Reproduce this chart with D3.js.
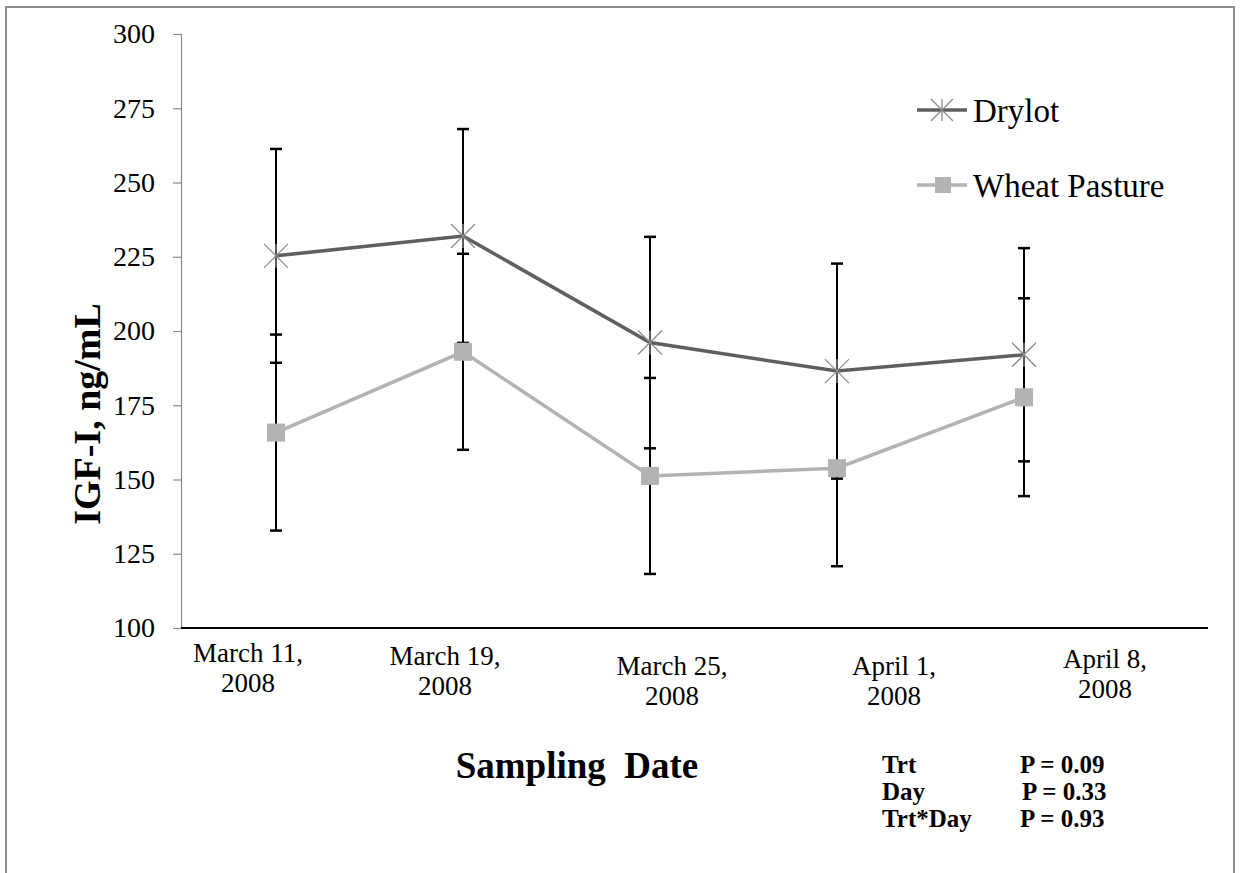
<!DOCTYPE html>
<html>
<head>
<meta charset="utf-8">
<script src="https://cdn.jsdelivr.net/npm/d3@7"></script>
<style>
  html, body { margin: 0; padding: 0; background: #fff; }
  svg { display: block; }
</style>
</head>
<body>
<svg id="chart" width="1244" height="873"></svg>
<script>
// Serum IGF-I by sampling date, two treatments, means ± SE
const dates = ["March 11, 2008", "March 19, 2008", "March 25, 2008", "April 1, 2008", "April 8, 2008"];
const dateLines = [["March 11,", "2008"], ["March 19,", "2008"], ["March 25,", "2008"], ["April 1,", "2008"], ["April 8,", "2008"]];
const drylot = [225.3, 232.0, 196.1, 186.5, 192.0];
const drylotSE = [36.0, 36.0, 35.6, 36.2, 35.9];
const wheat = [165.8, 193.0, 151.2, 153.8, 177.7];
const wheatSE = [33.0, 33.0, 33.0, 33.0, 33.3];
const yTicks = [100, 125, 150, 175, 200, 225, 250, 275, 300];
const seriesNames = ["Drylot", "Wheat Pasture"];
const statLabels = ["Trt", "Day", "Trt*Day"];
const statValues = ["P = 0.09", "P = 0.33", "P = 0.93"];

const SERIF = "Liberation Serif";

// layout
const plot = { left: 181, right: 1208, top: 34, bottom: 628 };
// the date labels sit as free text boxes, nudged off their category centres
const labelNudge = [[-28, 34], [-18, 37], [22, 47], [57, 47], [81, 40]];

const svg = d3.select("#chart");

// outer frame
svg.append("rect")
  .attr("x", 6).attr("y", 7).attr("width", 1228).attr("height", 900)
  .attr("fill", "none").attr("stroke", "#8a8a8a").attr("stroke-width", 2);

const x = d3.scaleBand()
  .domain(dates)
  .range([plot.left + 1.5, plot.right + 3])
  .paddingInner(0).paddingOuter(0.25).align(0);
const cx = d => x(d) + x.bandwidth() / 2;

const y = d3.scaleLinear().domain([100, 300]).range([plot.bottom, plot.top]);

// y axis
const yAxis = d3.axisLeft(y).tickValues(yTicks).tickSize(8).tickPadding(18).tickFormat(d3.format("d"));
const gy = svg.append("g").attr("transform", `translate(${plot.left},0)`).call(yAxis);
gy.select(".domain").attr("stroke", "#8a8a8a").attr("stroke-width", 1.2);
gy.selectAll(".tick line").attr("stroke", "#8a8a8a").attr("stroke-width", 1.2);
gy.selectAll(".tick text")
  .style("font-family", SERIF).style("font-size", "28px").attr("fill", "#000");

// x axis line
svg.append("line")
  .attr("x1", plot.left).attr("x2", plot.right)
  .attr("y1", y(100)).attr("y2", y(100))
  .attr("stroke", "#000").attr("stroke-width", 2);

// date labels
const xl = svg.append("g");
dates.forEach((d, i) => {
  const t = xl.append("text")
    .attr("text-anchor", "middle")
    .style("font-family", SERIF).style("font-size", "27px")
    .attr("x", cx(d) + labelNudge[i][0])
    .attr("y", y(100) + labelNudge[i][1]);
  dateLines[i].forEach((ln, k) => {
    t.append("tspan").attr("x", cx(d) + labelNudge[i][0]).attr("dy", k === 0 ? 0 : 30).text(ln);
  });
});

// axis titles
svg.append("text")
  .attr("transform", "translate(100,414) rotate(-90)")
  .attr("text-anchor", "middle")
  .style("font-family", SERIF).style("font-weight", "bold").style("font-size", "38px")
  .text("IGF-I, ng/mL");

svg.append("text")
  .attr("x", 577).attr("y", 778)
  .attr("text-anchor", "middle")
  .style("font-family", SERIF).style("font-weight", "bold").style("font-size", "37px")
  .style("white-space", "pre")
  .text("Sampling  Date");

// error bars
const capHalf = 6;
function errorBars(vals, ses) {
  const g = svg.append("g").attr("stroke", "#000").attr("stroke-width", 2);
  dates.forEach((d, i) => {
    const px = cx(d), hi = y(vals[i] + ses[i]), lo = y(vals[i] - ses[i]);
    g.append("line").attr("x1", px).attr("x2", px).attr("y1", hi).attr("y2", lo);
    g.append("line").attr("x1", px - capHalf).attr("x2", px + capHalf).attr("y1", hi).attr("y2", hi).attr("stroke-width", 2.5);
    g.append("line").attr("x1", px - capHalf).attr("x2", px + capHalf).attr("y1", lo).attr("y2", lo).attr("stroke-width", 2.5);
  });
}
errorBars(drylot, drylotSE);
errorBars(wheat, wheatSE);

// series lines
const line = d3.line().x((v, i) => cx(dates[i])).y(v => y(v));
svg.append("path").datum(wheat).attr("d", line)
  .attr("fill", "none").attr("stroke", "#b3b3b3").attr("stroke-width", 3.5);
svg.append("path").datum(drylot).attr("d", line)
  .attr("fill", "none").attr("stroke", "#5f5f5f").attr("stroke-width", 3.5);

// markers
function star(g, px, py, r) {
  const s = g.append("g").attr("stroke", "#8c8c8c").attr("stroke-width", 1.3);
  s.append("line").attr("x1", px - r).attr("y1", py - r).attr("x2", px + r).attr("y2", py + r);
  s.append("line").attr("x1", px - r).attr("y1", py + r).attr("x2", px + r).attr("y2", py - r);
  s.append("line").attr("x1", px).attr("y1", py - r).attr("x2", px).attr("y2", py + r);
}
function square(g, px, py, size) {
  g.append("rect").attr("x", px - size / 2).attr("y", py - size / 2)
    .attr("width", size).attr("height", size).attr("fill", "#b3b3b3");
}
const mk = svg.append("g");
wheat.forEach((v, i) => square(mk, cx(dates[i]), y(v), 18));
drylot.forEach((v, i) => star(mk, cx(dates[i]), y(v), 12));

// legend
const lg = svg.append("g");
lg.append("line").attr("x1", 917).attr("x2", 967).attr("y1", 110).attr("y2", 110)
  .attr("stroke", "#5f5f5f").attr("stroke-width", 3.5);
star(lg, 942, 110, 11);
lg.append("text").attr("x", 973).attr("y", 122)
  .style("font-family", SERIF).style("font-size", "33px").text(seriesNames[0]);

lg.append("line").attr("x1", 917).attr("x2", 967).attr("y1", 185).attr("y2", 185)
  .attr("stroke", "#b3b3b3").attr("stroke-width", 3.5);
square(lg, 943, 185, 16);
lg.append("text").attr("x", 973).attr("y", 197)
  .style("font-family", SERIF).style("font-size", "33px").text(seriesNames[1]);

// statistics block
const st = svg.append("g");
statLabels.forEach((s, i) => {
  st.append("text").attr("x", 882).attr("y", 773 + i * 27)
    .style("font-family", SERIF).style("font-weight", "bold").style("font-size", "25px").text(s);
  st.append("text").attr("x", i === 1 ? 1022 : 1020).attr("y", 773 + i * 27)
    .style("font-family", SERIF).style("font-weight", "bold").style("font-size", "25px").text(statValues[i]);
});
</script>
</body>
</html>
